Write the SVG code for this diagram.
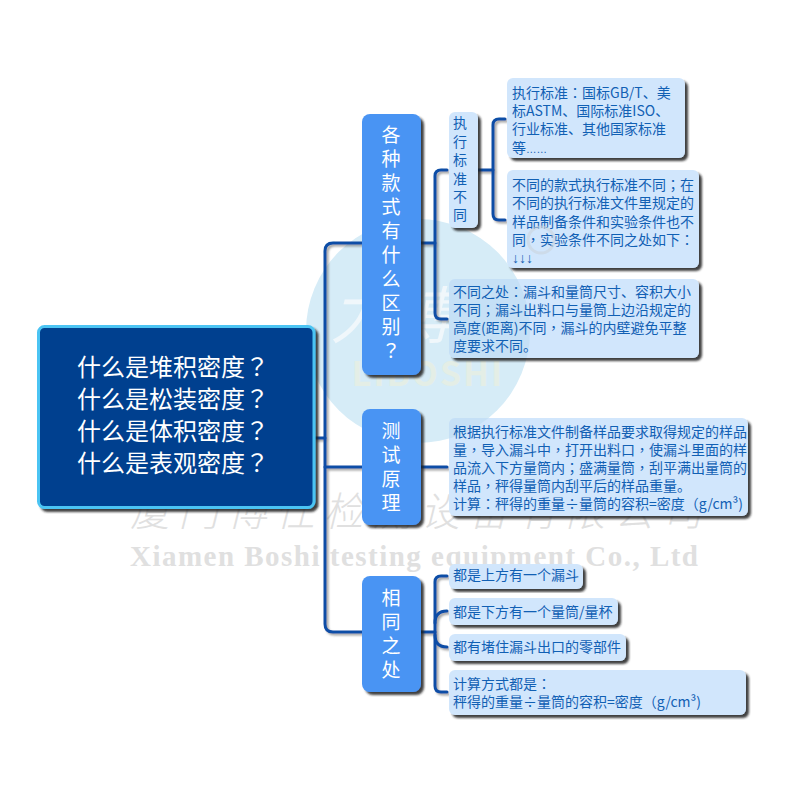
<svg xmlns="http://www.w3.org/2000/svg" width="800" height="800" viewBox="0 0 800 800">
<defs>
<filter id="sh" x="-15%" y="-15%" width="130%" height="130%"><feDropShadow dx="3" dy="3" stdDeviation="1.2" flood-color="#222" flood-opacity="0.85"/></filter>
<filter id="lsh" x="-10%" y="-10%" width="120%" height="120%"><feDropShadow dx="2" dy="2" stdDeviation="1" flood-color="#555" flood-opacity="0.55"/></filter>
<clipPath id="disc"><circle cx="418" cy="331" r="112"/></clipPath>
</defs>
<style>
text{font-family:"Noto Sans CJK SC","Liberation Sans",sans-serif;text-spacing-trim:space-all}
.p{font-family:"Noto Sans CJK TC","Noto Sans CJK SC",sans-serif}
.leaf{fill:#d1e6fc;filter:url(#sh)}
.main{fill:#4a94f3;filter:url(#sh)}
.tint{fill:#c5e0f6}
.t{font-size:14px;fill:#1160b4}
.v{text-anchor:middle}
.m{font-size:19px;fill:#fff;text-anchor:middle}
.r{font-size:24px;fill:#fff}
.c{fill:none;stroke:#0a4da6;stroke-width:3;stroke-linecap:round;stroke-linejoin:round}
</style>
<rect width="800" height="800" fill="#fff"/>
<g id="watermark">
<circle cx="418" cy="331" r="112" fill="#d6ecf7"/>
<text x="392" y="338" font-size="62" text-anchor="middle" fill="#f0f7fb" font-style="italic">力搏</text>
<text x="428" y="386" font-size="34" font-weight="700" text-anchor="middle" fill="#e4eee6" letter-spacing="2">LIBOSHI</text>
<text x="130" y="526" font-size="40" font-weight="300" font-style="italic" fill="#e0e0e0" textLength="572">厦门博仕检测设备有限公司</text>
<text x="130" y="566" font-size="29" font-weight="700" fill="#e0e0e0" textLength="568" style="font-family:'Liberation Serif',serif">Xiamen Boshi testing equipment Co., Ltd</text>
</g>
<g id="connectors" filter="url(#lsh)">
<path class="c" d="M315 438H325"/>
<path class="c" d="M362 243H333Q325 243 325 251V624Q325 632 333 632H362"/>
<path class="c" d="M325 467H362"/>
<path class="c" d="M421 243H435"/>
<path class="c" d="M447 170H441Q435 170 435 176V313Q435 319 441 319H447"/>
<path class="c" d="M477 170H493"/>
<path class="c" d="M505 119H499Q493 119 493 125V214Q493 220 499 220H505"/>
<path class="c" d="M421 467H447"/>
<path class="c" d="M421 632H435"/>
<path class="c" d="M447 576H441Q435 576 435 582V686Q435 692 441 692H447"/>
<path class="c" d="M447 611Q435 611 435 623"/>
<path class="c" d="M447 647Q435 647 435 635"/>
</g>
<g id="root">
<rect x="38.5" y="326.5" width="275.5" height="181" rx="6" fill="#03408f" stroke="#4cc4f3" stroke-width="3" filter="url(#sh)"/>
<text class="r"><tspan x="77" y="376">什么是堆积密度<tspan class="p">？</tspan></tspan><tspan x="77" y="408">什么是松装密度<tspan class="p">？</tspan></tspan><tspan x="77" y="440">什么是体积密度<tspan class="p">？</tspan></tspan><tspan x="77" y="472">什么是表观密度<tspan class="p">？</tspan></tspan></text>
</g>
<g id="n-diff">
<rect class="main" x="362" y="114" width="59" height="261" rx="8"/>
<text class="m"><tspan x="391" y="142">各</tspan><tspan x="391" y="166">种</tspan><tspan x="391" y="190">款</tspan><tspan x="391" y="214">式</tspan><tspan x="391" y="238">有</tspan><tspan x="391" y="262">什</tspan><tspan x="391" y="286">么</tspan><tspan x="391" y="310">区</tspan><tspan x="391" y="334">别</tspan><tspan class="p" x="391" y="358">？</tspan></text>
</g>
<g id="n-test">
<rect class="main" x="362" y="409" width="59" height="116" rx="8"/>
<text class="m"><tspan x="391" y="438">测</tspan><tspan x="391" y="462">试</tspan><tspan x="391" y="486">原</tspan><tspan x="391" y="510">理</tspan></text>
</g>
<g id="n-same">
<rect class="main" x="362" y="576" width="59" height="116" rx="8"/>
<text class="m"><tspan x="391" y="605">相</tspan><tspan x="391" y="629">同</tspan><tspan x="391" y="653">之</tspan><tspan x="391" y="677">处</tspan></text>
</g>
<g id="n-standard">
<rect class="leaf" x="449" y="112" width="29" height="116" rx="6"/>
<text class="t v"><tspan x="460" y="128">执</tspan><tspan x="460" y="147">行</tspan><tspan x="460" y="165">标</tspan><tspan x="460" y="184">准</tspan><tspan x="460" y="202">不</tspan><tspan x="460" y="220">同</tspan></text>
</g>
<g id="n-box1">
<rect class="leaf" x="507" y="78" width="178" height="80" rx="6"/>
<text class="t"><tspan x="512" y="98">执行标准<tspan class="p">：</tspan>国标GB/T、美</tspan><tspan x="512" y="116">标ASTM、国际标准ISO、</tspan><tspan x="512" y="134">行业标准、其他国家标准</tspan><tspan x="512" y="153">等<tspan style="font-family:'Liberation Sans',sans-serif;font-size:10.5px">……</tspan></tspan></text>
</g>
<g id="n-box2">
<rect class="leaf" x="507" y="170" width="192" height="98" rx="6"/>
<text class="t"><tspan x="512" y="190">不同的款式执行标准不同<tspan class="p">；</tspan>在</tspan><tspan x="512" y="208">不同的执行标准文件里规定的</tspan><tspan x="512" y="227">样品制备条件和实验条件也不</tspan><tspan x="512" y="245">同<tspan class="p">，</tspan>实验条件不同之处如下<tspan class="p">：</tspan></tspan><tspan x="512 519 526" y="263" style="font-family:'Liberation Sans',sans-serif">↓↓↓</tspan></text>
</g>
<g id="n-box3">
<rect class="leaf" x="449" y="279" width="250" height="79" rx="6"/>
<rect class="tint" x="449" y="279" width="250" height="79" rx="6" clip-path="url(#disc)"/>
<text class="t"><tspan x="453" y="297">不同之处<tspan class="p">：</tspan>漏斗和量筒尺寸、容积大小</tspan><tspan x="453" y="315">不同<tspan class="p">；</tspan>漏斗出料口与量筒上边沿规定的</tspan><tspan x="453" y="333">高度(距离)不同<tspan class="p">，</tspan>漏斗的内壁避免平整</tspan><tspan x="453" y="351">度要求不同。</tspan></text>
</g>
<g id="n-principle">
<rect class="leaf" x="449" y="418" width="299" height="98" rx="6"/>
<rect class="tint" x="449" y="418" width="299" height="98" rx="6" clip-path="url(#disc)"/>
<text class="t"><tspan x="453" y="437">根据执行标准文件制备样品要求取得规定的样品</tspan><tspan x="453" y="455">量<tspan class="p">，</tspan>导入漏斗中<tspan class="p">，</tspan>打开出料口<tspan class="p">，</tspan>使漏斗里面的样</tspan><tspan x="453" y="473">品流入下方量筒内<tspan class="p">；</tspan>盛满量筒<tspan class="p">，</tspan>刮平满出量筒的</tspan><tspan x="453" y="491">样品<tspan class="p">，</tspan>秤得量筒内刮平后的样品重量。</tspan><tspan x="453" y="509">计算<tspan class="p">：</tspan>秤得的重量÷量筒的容积=密度（g/cm³)</tspan></text>
</g>
<g id="n-same1">
<rect class="leaf" x="449" y="564" width="134" height="25" rx="6"/>
<text class="t" x="453" y="580">都是上方有一个漏斗</text>
</g>
<g id="n-same2">
<rect class="leaf" x="449" y="598" width="169" height="27" rx="6"/>
<text class="t" x="453" y="617">都是下方有一个量筒/量杯</text>
</g>
<g id="n-same3">
<rect class="leaf" x="449" y="634" width="177" height="27" rx="6"/>
<text class="t" x="453" y="652">都有堵住漏斗出口的零部件</text>
</g>
<g id="n-same4">
<rect class="leaf" x="449" y="670" width="297" height="45" rx="6"/>
<text class="t"><tspan x="453" y="689">计算方式都是<tspan class="p">：</tspan></tspan><tspan x="453" y="707">秤得的重量÷量筒的容积=密度（g/cm³)</tspan></text>
</g>
<g id="watermark-mark" opacity="0.6">
<circle cx="541" cy="240" r="13" fill="none" stroke="#c9d3dc" stroke-width="3"/>
</g>
</svg>
